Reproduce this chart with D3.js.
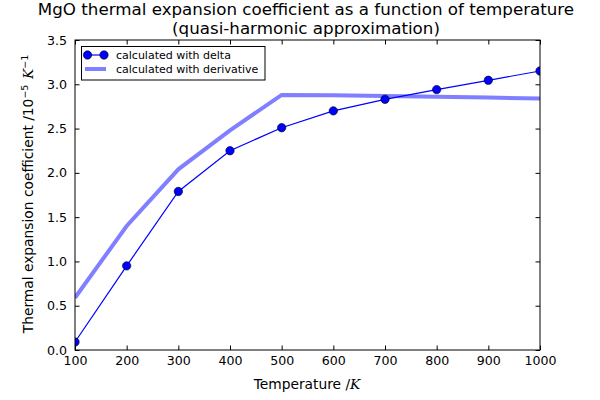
<!DOCTYPE html>
<html><head><meta charset="utf-8">
<script src="https://cdn.jsdelivr.net/npm/d3@7"></script>
<style>body{margin:0;background:#fff}svg{display:block}text{font-family:"DejaVu Sans",sans-serif}</style>
</head><body><svg id="c" width="600" height="400"></svg>
<script>
const temperatures = [100,200,300,400,500,600,700,800,900,1000];
const deltaValues = [0.09,0.95,1.79,2.25,2.51,2.70,2.83,2.94,3.045,3.15];
const derivValues = [0.59,1.40,2.04,2.48,2.88,2.875,2.868,2.86,2.85,2.84];
const xTicks = [100,200,300,400,500,600,700,800,900,1000];
const yTicks = [0,0.5,1,1.5,2,2.5,3,3.5];

const svg = d3.select("#c");
const L=75,R=540,T=40,B=350;
const x = d3.scaleLinear().domain([100,1000]).range([L,R]);
const y = d3.scaleLinear().domain([0,3.5]).range([B,T]);

svg.append("defs").append("clipPath").attr("id","clip")
  .append("rect").attr("x",L).attr("y",T).attr("width",R-L).attr("height",B-T);

const g = svg.append("g").attr("clip-path","url(#clip)");
const line = d3.line().x((d,i)=>x(temperatures[i])).y(d=>y(d));
g.append("path").datum(derivValues).attr("d",line).attr("fill","none")
  .attr("stroke","#0000ff").attr("stroke-opacity",0.5).attr("stroke-width",4).attr("stroke-linejoin","miter");
g.append("path").datum(deltaValues).attr("d",line).attr("fill","none")
  .attr("stroke","#0000ff").attr("stroke-width",1.2);
g.selectAll("circle").data(deltaValues).enter().append("circle")
  .attr("cx",(d,i)=>x(temperatures[i])).attr("cy",d=>y(d)).attr("r",4.2)
  .attr("fill","#0000ff").attr("stroke","#000").attr("stroke-width",0.6);

// axes frame
svg.append("rect").attr("x",L).attr("y",T).attr("width",R-L).attr("height",B-T)
  .attr("fill","none").attr("stroke","#000").attr("stroke-width",1);

const tl=4.5;
const xb = d3.axisBottom(x).tickValues(xTicks).tickSizeInner(-tl).tickSizeOuter(0).tickPadding(7).tickFormat(d3.format("d"));
const xa = svg.append("g").attr("transform",`translate(0,${B})`).call(xb);
const xt = d3.axisTop(x).tickValues(xTicks).tickSizeInner(-tl).tickSizeOuter(0).tickFormat("");
const xat = svg.append("g").attr("transform",`translate(0,${T})`).call(xt);
const yl = d3.axisLeft(y).tickValues(yTicks).tickSizeInner(-tl).tickSizeOuter(0).tickPadding(8).tickFormat(d3.format(".1f"));
const ya = svg.append("g").attr("transform",`translate(${L},0)`).call(yl);
const yr = d3.axisRight(y).tickValues(yTicks).tickSizeInner(-tl).tickSizeOuter(0).tickFormat("");
const yar = svg.append("g").attr("transform",`translate(${R},0)`).call(yr);
[xa,xat,ya,yar].forEach(a=>{a.select(".domain").remove();a.selectAll("line").attr("stroke","#000");
  a.selectAll("text").attr("font-family","DejaVu Sans").attr("font-size",12.6).attr("fill","#000");});
xa.selectAll("text").attr("dy","0.71em").attr("y",6);

// title
svg.append("text").attr("x",306).attr("y",15).attr("text-anchor","middle").attr("font-size",16.7)
  .text("MgO thermal expansion coefficient as a function of temperature");
svg.append("text").attr("x",306).attr("y",34).attr("text-anchor","middle").attr("font-size",16.7)
  .text("(quasi-harmonic approximation)");

// x label
const xl = svg.append("text").attr("x",307).attr("y",389).attr("text-anchor","middle").attr("font-size",13.8);
xl.append("tspan").text("Temperature /");
xl.append("tspan").attr("font-family","DejaVu Serif").attr("font-style","italic").text("K");

// y label
const ylab = svg.append("text").attr("transform","translate(33,194) rotate(-90)").attr("text-anchor","middle").attr("font-size",13.8);
ylab.append("tspan").text("Thermal expansion coefficient /10");
ylab.append("tspan").attr("font-size",9.5).attr("dy",-5.5).text("\u22125");
ylab.append("tspan").attr("dy",5.5).text("\u2009\u2009");
ylab.append("tspan").attr("font-family","DejaVu Serif").attr("font-style","italic").text("K");
ylab.append("tspan").attr("font-size",9.5).attr("dy",-5.5).text("\u22121");

// legend
const lg = svg.append("g");
lg.append("rect").attr("x",81.5).attr("y",46.5).attr("width",183.5).attr("height",33.5)
  .attr("fill","#fff").attr("stroke","#000").attr("stroke-width",1);
lg.append("line").attr("x1",87.5).attr("x2",104).attr("y1",55).attr("y2",55).attr("stroke","#0000ff").attr("stroke-width",1.2);
[87.5,104].forEach(cx=>lg.append("circle").attr("cx",cx).attr("cy",55).attr("r",4.2)
  .attr("fill","#0000ff").attr("stroke","#000").attr("stroke-width",0.6));
lg.append("line").attr("x1",85).attr("x2",106).attr("y1",69).attr("y2",69).attr("stroke","#0000ff").attr("stroke-opacity",0.5).attr("stroke-width",4);
lg.append("text").attr("x",116).attr("y",58.5).attr("font-size",11).text("calculated with delta");
lg.append("text").attr("x",116).attr("y",73).attr("font-size",11).text("calculated with derivative");
</script></body></html>
